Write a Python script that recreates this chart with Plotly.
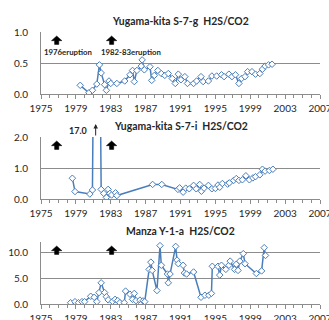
import plotly.graph_objects as go

# ---- data ----
years1 = [1979.5, 1980.5, 1980.9, 1981.4, 1981.7, 1981.9, 1982.3, 1982.5, 1982.8, 1983.0, 1983.7, 1984.6,
          1985.2, 1985.5, 1985.7, 1986.0, 1986.5, 1986.6, 1986.85, 1987.5, 1987.7, 1988.0, 1988.4, 1988.8,
          1989.2, 1989.6, 1990.05, 1990.4, 1990.75, 1991.05, 1991.5, 1991.8, 1992.5, 1992.85, 1993.35,
          1993.6, 1994.2, 1994.6, 1995.15, 1995.7, 1996.0, 1996.55, 1996.9, 1997.3, 1997.7, 1998.0, 1998.4,
          1998.7, 1999.2, 1999.6, 2000.1, 2000.4, 2000.7, 2001.1, 2001.5]
vals1 = [0.14, 0.02, 0.06, 0.16, 0.47, 0.34, 0.15, 0.06, 0.21, 0.17, 0.17, 0.21, 0.31, 0.38, 0.2, 0.38,
         0.45, 0.55, 0.39, 0.44, 0.22, 0.3, 0.38, 0.33, 0.3, 0.33, 0.25, 0.17, 0.32, 0.23, 0.28, 0.17, 0.17,
         0.21, 0.28, 0.2, 0.21, 0.29, 0.29, 0.31, 0.28, 0.32, 0.28, 0.31, 0.17, 0.25, 0.28, 0.36, 0.36, 0.32,
         0.33, 0.4, 0.45, 0.47, 0.48]

years2 = [1978.6, 1978.9, 1980.6, 1980.9, 1981.4, 1981.9, 1982.2, 1982.5, 1982.7, 1982.9, 1983.1, 1983.55,
          1983.7, 1987.8, 1988.85, 1990.7, 1990.9, 1991.3, 1991.6, 1992.0, 1992.5, 1992.8, 1993.2, 1993.4,
          1993.7, 1994.2, 1994.6, 1995.0, 1995.3, 1995.5, 1995.8, 1996.4, 1996.6, 1997.1, 1997.4, 1997.7,
          1998.1, 1998.5, 1998.9, 1999.3, 1999.6, 2000.1, 2000.4, 2000.7, 2001.2, 2001.6]
vals2 = [0.67, 0.24, 0.16, 0.29, 17.0, 0.31, 0.18, 0.05, 0.31, 0.18, 0.13, 0.2, 0.11, 0.47, 0.47, 0.31,
         0.36, 0.22, 0.35, 0.33, 0.44, 0.33, 0.47, 0.25, 0.35, 0.44, 0.33, 0.34, 0.45, 0.38, 0.5, 0.48, 0.52,
         0.6, 0.66, 0.6, 0.62, 0.75, 0.62, 0.68, 0.72, 0.78, 0.96, 0.9, 0.92, 0.96]

years3 = [1978.4, 1978.9, 1979.3, 1979.7, 1980.0, 1980.7, 1981.1, 1981.4, 1981.65, 1981.9, 1982.3, 1982.5,
          1982.7, 1983.2, 1983.5, 1983.8, 1984.05, 1984.55, 1984.7, 1985.2, 1985.5, 1985.7, 1985.9, 1986.35,
          1986.55, 1986.7, 1986.9, 1987.4, 1987.6, 1987.75, 1988.3, 1988.65, 1988.8, 1989.5, 1989.6, 1989.8,
          1990.45, 1990.6, 1990.75, 1991.3, 1991.45, 1991.7, 1992.5, 1993.35, 1993.8, 1994.25, 1994.55,
          1994.65, 1995.3, 1995.5, 1995.7, 1996.2, 1996.55, 1996.7, 1997.2, 1997.4, 1997.6, 1997.8, 1998.2,
          1998.4, 1999.7, 2000.3, 2000.6, 2000.75]
vals3 = [0.25, 0.45, 0.25, 0.45, 0.45, 1.5, 1.3, 0.45, 2.2, 4.1, 2.2, 1.4, 0.8, 0.5, 0.9, 0.65, 0.25, 0.25,
         2.5, 1.9, 0.9, 2.05, 0.65, 0.75, 0.1, 0.6, 0.45, 6.7, 8.1, 6.5, 2.6, 11.3, 7.5, 5.8, 4.1, 5.8,
         11.15, 8.5, 7.8, 7.5, 6.0, 5.8, 6.2, 1.3, 1.7, 1.7, 2.05, 7.3, 7.3, 5.6, 7.5, 6.7, 7.5, 8.3, 6.7,
         7.7, 6.5, 8.3, 9.75, 7.8, 5.9, 6.4, 10.9, 9.4]

titles = ["Yugama-kita S-7-g  H2S/CO2", "Yugama-kita S-7-i  H2S/CO2", "Manza Y-1-a  H2S/CO2"]
eruption_years = [1976.8, 1983.1]
eruption_labels = ["1976eruption", "1982-83eruption"]
x_ticks = [1975, 1979, 1983, 1987, 1991, 1995, 1999, 2003, 2007]
y_ranges = [[0, 1.0], [0, 2.0], [0, 12]]
y_ticks = [[0, 0.5, 1.0], [0, 1.0, 2.0], [0, 5, 10]]

FONT = "Lato, Open Sans, sans-serif"
BLUE = "#4A7EBB"
GRID = "#8C8C8C"
TXT = "#262626"
H = 320.0
# pixel extents of each panel (top, bottom)
panels_px = [(32, 94), (137, 199), (242, 304)]

fig = go.Figure()
series = [(years1, vals1), (years2, vals2), (years3, vals3)]
for i, (xs, ys) in enumerate(series):
    sfx = "" if i == 0 else str(i + 1)
    fig.add_trace(go.Scatter(
        x=xs, y=ys, mode="lines+markers",
        line=dict(color=BLUE, width=1.5),
        marker=dict(symbol="diamond", size=5, color="white", line=dict(color=BLUE, width=1)),
        xaxis="x" + sfx, yaxis="y" + sfx, showlegend=False, hoverinfo="skip"))

layout = dict(
    width=329, height=320,
    margin=dict(l=41, r=9, t=0, b=0),
    paper_bgcolor="white", plot_bgcolor="white",
    font=dict(family=FONT, size=10, color=TXT),
    showlegend=False,
)
shapes = []
annotations = []
for i in range(3):
    sfx = "" if i == 0 else str(i + 1)
    top, bot = panels_px[i]
    dom = [1 - bot / H, 1 - top / H]
    layout["xaxis" + sfx] = dict(
        domain=[0, 1], range=[1975, 2007], anchor="y" + sfx,
        tickvals=x_ticks, ticktext=[str(v) for v in x_ticks],
        ticks="outside", ticklen=4, tickcolor=GRID, tickwidth=1,
        minor=dict(ticks="outside", dtick=1, tick0=1975, ticklen=3, tickcolor=GRID, tickwidth=1),
        showline=True, linecolor=GRID, linewidth=1, showgrid=False, zeroline=False,
        tickfont=dict(family=FONT, size=10, color=TXT), ticklabelstandoff=1,
        ticklabeloverflow="allow",
        automargin=False, fixedrange=True)
    layout["yaxis" + sfx] = dict(
        domain=dom, range=y_ranges[i], anchor="x" + sfx,
        tickvals=y_ticks[i], ticktext=["%.1f" % v for v in y_ticks[i]],
        showline=True, linecolor=GRID, linewidth=1, showgrid=True, gridcolor=GRID, gridwidth=1,
        zeroline=False, ticks="", ticklabelstandoff=10,
        tickfont=dict(family=FONT, size=10, color=TXT),
        automargin=False, fixedrange=True)
    # title
    annotations.append(dict(text="<b>%s</b>" % titles[i], xref="paper", yref="y%s domain" % sfx,
                            x=0.5, y=1 + 11 / 62, xanchor="center", yanchor="middle", showarrow=False,
                            font=dict(family=FONT, size=10.4, color=TXT)))
    # eruption arrows
    for ex in eruption_years:
        hw, sw = 0.6, 0.24
        yt, yh, yb = 0.935, 0.86, 0.80
        path = ("M {a},{yh} L {b},{yt} L {c},{yh} L {d},{yh} L {d},{yb} L {e},{yb} L {e},{yh} Z"
                .format(a=ex - hw, b=ex, c=ex + hw, d=ex + sw, e=ex - sw, yh=yh, yt=yt, yb=yb))
        shapes.append(dict(type="path", path=path, xref="x" + sfx, yref="y%s domain" % sfx,
                           fillcolor="black", line=dict(color="black", width=0.5)))

# eruption labels on panel 1
label_x = [1978.1, 1985.3]
for lx, lab in zip(label_x, eruption_labels):
    annotations.append(dict(text="<b>%s</b>" % lab, xref="x", yref="y domain", x=lx, y=0.68,
                            xanchor="center", yanchor="middle", showarrow=False,
                            font=dict(family=FONT, size=7.8, color=TXT)))
# 17.0 marker on panel 2
annotations.append(dict(text="<b>17.0</b>", xref="x2", yref="y2 domain", x=1979.2, y=1.1,
                        xanchor="center", yanchor="middle", showarrow=False,
                        font=dict(family=FONT, size=9, color=TXT)))
annotations.append(dict(text="", xref="x2", yref="y2 domain", x=1981.27, y=1 + 13 / 62,
                        ax=0, ay=13, showarrow=True, arrowhead=2, arrowsize=0.9, arrowwidth=1,
                        arrowcolor=TXT))
layout["shapes"] = shapes
layout["annotations"] = annotations
fig.update_layout(**layout)
fig.write_html("out.html", post_script="document.body.style.margin='0';",
               config={"displayModeBar": False})
